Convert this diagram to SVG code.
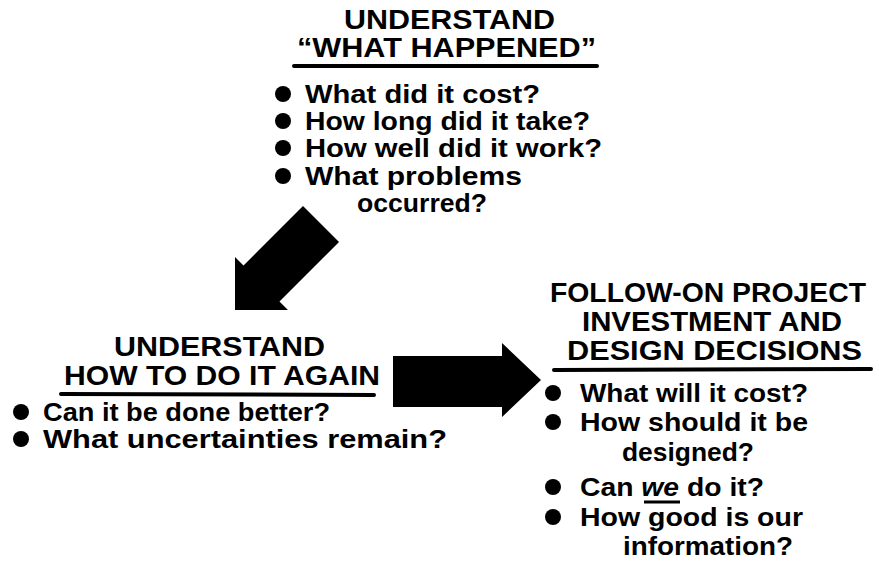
<svg xmlns="http://www.w3.org/2000/svg" width="879" height="562" viewBox="0 0 879 562">
<style>
text{font-family:"Liberation Sans",Arial,sans-serif;font-weight:bold;fill:#000}
.h{font-size:27px}
.b{font-size:25px}
.ul{stroke:#000;stroke-width:4;stroke-linecap:round}
.dot{fill:#000}
.arrow{fill:#000}
</style>
<rect width="879" height="562" fill="#fff"/>
<g id="connectors">
<polygon class="arrow" points="303,206 339,242 279.5,301.5 288,310 235,310 235,257 243.5,265.5"/>
<polygon class="arrow" points="393,356 502,356 502,343 541,380 502,417 502,407 393,407"/>
</g>
<g id="what-happened">
<text class="h" x="344" y="29" textLength="211" lengthAdjust="spacingAndGlyphs">UNDERSTAND</text>
<text class="h" x="297" y="57" textLength="299" lengthAdjust="spacingAndGlyphs">“WHAT HAPPENED”</text>
<line class="ul" x1="294" y1="66" x2="597" y2="66"/>
<circle class="dot" cx="283" cy="94" r="8"/>
<text class="b" x="305" y="103" textLength="235" lengthAdjust="spacingAndGlyphs">What did it cost?</text>
<circle class="dot" cx="283" cy="121" r="8"/>
<text class="b" x="305" y="130" textLength="285" lengthAdjust="spacingAndGlyphs">How long did it take?</text>
<circle class="dot" cx="283" cy="148" r="8"/>
<text class="b" x="305" y="157" textLength="297" lengthAdjust="spacingAndGlyphs">How well did it work?</text>
<circle class="dot" cx="283" cy="176" r="8"/>
<text class="b" x="305" y="185" textLength="217" lengthAdjust="spacingAndGlyphs">What problems</text>
<text class="b" x="357" y="212" textLength="130" lengthAdjust="spacingAndGlyphs">occurred?</text>
</g>
<g id="do-it-again">
<text class="h" x="114" y="356" textLength="211" lengthAdjust="spacingAndGlyphs">UNDERSTAND</text>
<text class="h" x="64" y="385" textLength="316" lengthAdjust="spacingAndGlyphs">HOW TO DO IT AGAIN</text>
<line class="ul" x1="61" y1="394" x2="374" y2="395"/>
<circle class="dot" cx="21" cy="412" r="8"/>
<text class="b" x="43" y="421" textLength="287" lengthAdjust="spacingAndGlyphs">Can it be done better?</text>
<circle class="dot" cx="21" cy="439" r="8"/>
<text class="b" x="43" y="448" textLength="404" lengthAdjust="spacingAndGlyphs">What uncertainties remain?</text>
</g>
<g id="follow-on">
<text class="h" x="550" y="302" textLength="316" lengthAdjust="spacingAndGlyphs">FOLLOW-ON PROJECT</text>
<text class="h" x="582" y="331" textLength="260" lengthAdjust="spacingAndGlyphs">INVESTMENT AND</text>
<text class="h" x="567" y="360" textLength="295" lengthAdjust="spacingAndGlyphs">DESIGN DECISIONS</text>
<line class="ul" x1="554" y1="370" x2="871" y2="369"/>
<circle class="dot" cx="553" cy="393" r="8"/>
<text class="b" x="580" y="402" textLength="228" lengthAdjust="spacingAndGlyphs">What will it cost?</text>
<circle class="dot" cx="553" cy="422" r="8"/>
<text class="b" x="580" y="431" textLength="228" lengthAdjust="spacingAndGlyphs">How should it be</text>
<text class="b" x="622" y="461" textLength="132" lengthAdjust="spacingAndGlyphs">designed?</text>
<circle class="dot" cx="553" cy="487" r="8"/>
<text class="b" x="580" y="496" textLength="184" lengthAdjust="spacingAndGlyphs">Can <tspan font-style="italic">we</tspan> do it?</text>
<line x1="644" y1="502" x2="680" y2="502" stroke="#000" stroke-width="3"/>
<circle class="dot" cx="553" cy="517" r="8"/>
<text class="b" x="580" y="526" textLength="223" lengthAdjust="spacingAndGlyphs">How good is our</text>
<text class="b" x="623" y="555" textLength="170" lengthAdjust="spacingAndGlyphs">information?</text>
</g>
</svg>
